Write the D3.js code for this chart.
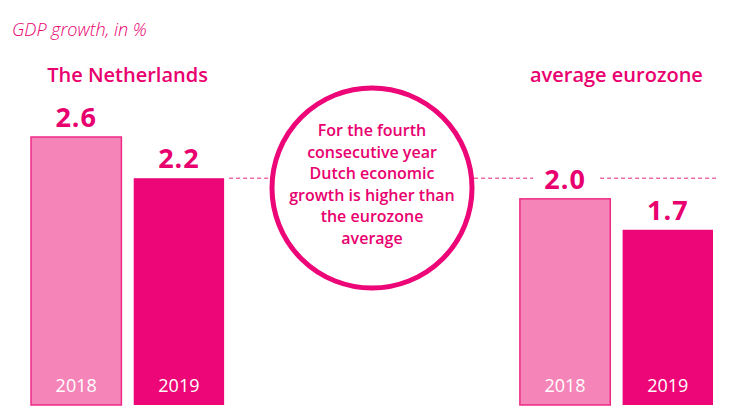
<!DOCTYPE html>
<html>
<head>
<meta charset="utf-8">
<script src="https://cdn.jsdelivr.net/npm/d3@7"></script>
<style>
  body { margin: 0; background: #fff; }
  text { font-family: "Open Sans", "Noto Sans", sans-serif; }
</style>
</head>
<body>
<div id="chart"></div>
<script>
var width = 740, height = 420;

// data
var groups = ["The Netherlands", "average eurozone"];
var years = ["2018", "2019"];
var netherlands = [2.6, 2.2];
var eurozone = [2.0, 1.7];
var labels = ["2.6", "2.2", "2.0", "1.7"];
var title = "GDP growth, in %";
var note = ["For the fourth", "consecutive year", "Dutch economic", "growth is higher than", "the eurozone", "average"];

var pink = "#e8006f",
    barDark = "#ec0677",
    barLight = "#f585b8";

var rows = [];
groups.forEach(function(g, gi) {
  var vals = gi == 0 ? netherlands : eurozone;
  years.forEach(function(yr, yi) {
    rows.push({group: g, year: yr, value: vals[yi], label: labels[gi * 2 + yi]});
  });
});

var x0 = d3.scaleBand()
    .domain(groups)
    .range([31, 713])
    .paddingInner(0.605);

var x1 = d3.scaleBand()
    .domain(years)
    .range([0, x0.bandwidth()])
    .paddingInner(0.12);

var y = d3.scaleLinear()
    .domain([0, 2.6])
    .range([405, 137]);

var svg = d3.select("#chart").append("svg")
    .attr("width", width)
    .attr("height", height);

svg.append("text")
    .attr("x", 12)
    .attr("y", 36)
    .style("font-style", "italic")
    .style("font-weight", 300)
    .style("font-size", "18px")
    .style("fill", pink)
    .text(title);

svg.selectAll(".group-label")
    .data(groups)
  .enter().append("text")
    .attr("class", "group-label")
    .attr("x", function(d) { return x0(d) + x0.bandwidth() / 2; })
    .attr("y", 82)
    .attr("text-anchor", "middle")
    .style("font-weight", 600)
    .style("font-size", "20px")
    .style("fill", pink)
    .text(function(d) { return d; });

// dashed reference line at NL 2019 level
var refVal = netherlands[1];
svg.append("line")
    .attr("x1", x0(groups[0]) + x1(years[1]) + x1.bandwidth() + 5)
    .attr("x2", 716)
    .attr("y1", y(refVal))
    .attr("y2", y(refVal))
    .style("stroke", "#f06aa8")
    .style("stroke-width", 1.5)
    .style("stroke-dasharray", "4,3");

// bars
svg.selectAll(".bar")
    .data(rows)
  .enter().append("rect")
    .attr("class", "bar")
    .attr("x", function(d) { return x0(d.group) + x1(d.year); })
    .attr("width", x1.bandwidth())
    .attr("y", function(d) { return y(d.value); })
    .attr("height", function(d) { return y(0) - y(d.value); })
    .style("fill", function(d) { return d.year == "2018" ? barLight : barDark; })
    .style("stroke", function(d) { return d.year == "2018" ? "#ee2a86" : "none"; })
    .style("stroke-width", 1.5);

// value labels (white background breaks the dashed line)
var vl = svg.selectAll(".val")
    .data(rows)
  .enter().append("g")
    .attr("class", "val")
    .attr("transform", function(d) {
      return "translate(" + (x0(d.group) + x1(d.year) + x1.bandwidth() / 2) + "," + (y(d.value) - 10) + ")";
    });

vl.append("rect")
    .attr("x", -32)
    .attr("y", -22)
    .attr("width", 64)
    .attr("height", 24)
    .style("fill", "#fff");

vl.append("text")
    .attr("text-anchor", "middle")
    .style("font-weight", "bold")
    .style("font-size", "27px")
    .style("letter-spacing", "1px")
    .style("fill", pink)
    .text(function(d) { return d.label; });

// year labels inside bars
svg.selectAll(".yr")
    .data(rows)
  .enter().append("text")
    .attr("class", "yr")
    .attr("x", function(d) { return x0(d.group) + x1(d.year) + x1.bandwidth() / 2; })
    .attr("y", 392)
    .attr("text-anchor", "middle")
    .style("font-size", "18px")
    .style("fill", "#fff")
    .text(function(d) { return d.year; });

// circle note
var cx = (x0(groups[0]) + x0.bandwidth() + x0(groups[1])) / 2;
svg.append("circle")
    .attr("cx", cx)
    .attr("cy", 188)
    .attr("r", 100)
    .style("fill", "#fff")
    .style("stroke", barDark)
    .style("stroke-width", 5);

svg.selectAll(".note")
    .data(note)
  .enter().append("text")
    .attr("class", "note")
    .attr("x", cx)
    .attr("y", function(d, i) { return 136 + i * 21.6; })
    .attr("text-anchor", "middle")
    .style("font-weight", 600)
    .style("font-size", "16px")
    .style("fill", pink)
    .text(function(d) { return d; });
</script>
</body>
</html>
